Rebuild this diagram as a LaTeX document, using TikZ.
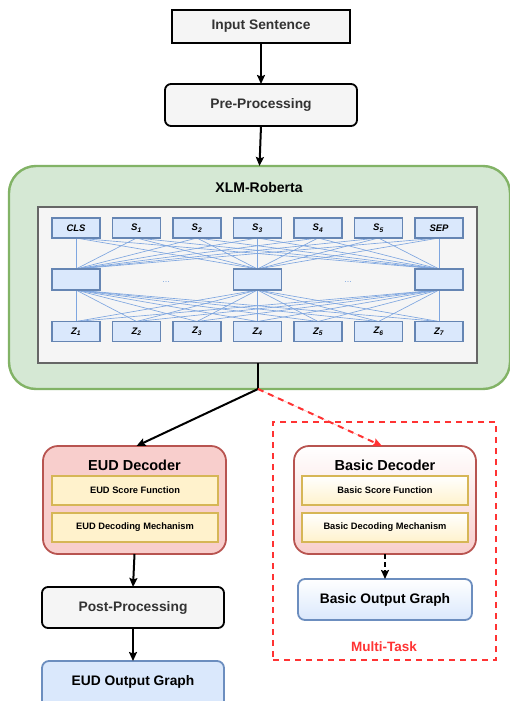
\documentclass[tikz,border=0pt]{standalone}
\usepackage{fontspec}
\setmainfont{Liberation Sans}
\usetikzlibrary{arrows.meta,calc}
\definecolor{grayfill}{HTML}{F5F5F5}
\definecolor{greenfill}{HTML}{D5E8D4}
\definecolor{greenline}{HTML}{82B366}
\definecolor{innerline}{HTML}{666666}
\definecolor{bluefill}{HTML}{DAE8FC}
\definecolor{blueline}{HTML}{6C8EBF}
\definecolor{netline}{HTML}{7EA6E0}
\definecolor{redfill}{HTML}{F8CECC}
\definecolor{redline}{HTML}{B85450}
\definecolor{yellowfill}{HTML}{FFF2CC}
\definecolor{yellowline}{HTML}{D6B656}
\definecolor{mtred}{HTML}{FF3333}
\definecolor{textgray}{HTML}{333333}
\tikzset{
  x=1pt,y=-1pt,
  every node/.style={outer sep=0pt,inner sep=0pt},
  tip/.style={-{Stealth[length=9pt,width=8pt,inset=1.5pt]}},
  arr/.style={tip,line width=2pt,black},
  plainbox/.style={draw=black,line width=1.8pt,fill=grayfill,font=\bfseries\fontsize{13.8}{15}\selectfont,text=textgray},
  tokbox/.style={draw=netline!80!black,line width=1.2pt,fill=bluefill,minimum width=48pt,minimum height=20pt,font=\bfseries\itshape\fontsize{9.5}{10}\selectfont},
  decbox/.style={draw=redline,line width=1.8pt,rounded corners=15pt,minimum width=182pt,minimum height=108pt},
  funbox/.style={draw=yellowline,line width=1.8pt,minimum width=166pt,minimum height=29pt,font=\bfseries\fontsize{9.3}{10}\selectfont},
  outbox/.style={draw=blueline,line width=1.8pt,rounded corners=7pt,font=\bfseries\fontsize{13.8}{15}\selectfont},
  net/.style={draw=netline,line width=0.65pt},
}
\begin{document}
\begin{tikzpicture}
\useasboundingbox (0,0) rectangle (510,701);
% top flow
\node[plainbox,minimum width=178pt,minimum height=33pt] (input) at (261,26.5) {Input Sentence};
\node[plainbox,rounded corners=6pt,minimum width=192pt,minimum height=42pt] (pre) at (261,105) {Pre-Processing};
% XLM-Roberta
\node[draw=greenline,fill=greenfill,line width=2.4pt,rounded corners=27pt,minimum width=501pt,minimum height=223pt] (xlm) at (259.5,277.5) {};
\node[font=\bfseries\fontsize{14}{15}\selectfont] (xlmt) at (259,187) {XLM-Roberta};
\node[draw=innerline,fill=grayfill,line width=2.4pt,minimum width=439pt,minimum height=156pt] (inner) at (257.5,285) {};
% tokens
\foreach \i/\x in {1/76,2/136.5,3/197,4/257.5,5/318,6/378.5,7/439}{
  \coordinate (tpos\i) at (\x,228);
  \coordinate (zpos\i) at (\x,331.5);
}
\foreach \m/\x in {1/76,2/257.5,3/439}{
  \coordinate (mpos\m) at (\x,279.5);
}
% network lines (drawn first)
\foreach \i in {1,...,7}{
  \foreach \m in {1,2,3}{
    \draw[net] ($(tpos\i)+(0,10)$) -- ($(mpos\m)+(0,-10.5)$);
    \draw[net] ($(mpos\m)+(0,10.5)$) -- ($(zpos\i)+(0,-10)$);
  }
}
\node[tokbox] (t1) at (tpos1) {CLS};
\node[tokbox] (t2) at (tpos2) {S\textsubscript{1}};
\node[tokbox] (t3) at (tpos3) {S\textsubscript{2}};
\node[tokbox] (t4) at (tpos4) {S\textsubscript{3}};
\node[tokbox] (t5) at (tpos5) {S\textsubscript{4}};
\node[tokbox] (t6) at (tpos6) {S\textsubscript{5}};
\node[tokbox] (t7) at (tpos7) {SEP};
\node[tokbox,minimum height=21pt] (m1) at (mpos1) {};
\node[tokbox,minimum height=21pt] (m2) at (mpos2) {};
\node[tokbox,minimum height=21pt] (m3) at (mpos3) {};
\node[text=netline,font=\fontsize{9}{9}\selectfont] (dots1) at (166,282) {...};
\node[text=netline,font=\fontsize{9}{9}\selectfont] (dots2) at (348,282) {...};
\node[tokbox] (z1) at (zpos1) {Z\textsubscript{1}};
\node[tokbox] (z2) at (zpos2) {Z\textsubscript{2}};
\node[tokbox] (z3) at (zpos3) {Z\textsubscript{3}};
\node[tokbox] (z4) at (zpos4) {Z\textsubscript{4}};
\node[tokbox] (z5) at (zpos5) {Z\textsubscript{5}};
\node[tokbox] (z6) at (zpos6) {Z\textsubscript{6}};
\node[tokbox] (z7) at (zpos7) {Z\textsubscript{7}};
% multi-task region
\node[draw=mtred,line width=1.8pt,dash pattern=on 6pt off 5pt,minimum width=223pt,minimum height=238pt] (mt) at (384.5,541) {};
\node[text=mtred,font=\bfseries\fontsize{13.5}{15}\selectfont] (mtl) at (384,647) {Multi-Task};
% EUD decoder
\node[decbox,fill=redfill,minimum width=183pt] (eud) at (134.5,500) {};
\node[font=\bfseries\fontsize{14.5}{16}\selectfont] (eudt) at (134.5,465) {EUD Decoder};
\node[funbox,fill=yellowfill] (eudf) at (135,490.5) {EUD Score Function};
\node[funbox,fill=yellowfill] (eudm) at (135,527.5) {EUD Decoding Mechanism};
% Basic decoder
\node[decbox,top color=white,bottom color=redfill] (bas) at (385,500) {};
\node[font=\bfseries\fontsize{14.5}{16}\selectfont] (bast) at (385,465) {Basic Decoder};
\node[funbox,top color=white,bottom color=yellowfill] (basf) at (385,490.5) {Basic Score Function};
\node[funbox,top color=white,bottom color=yellowfill] (basm) at (385,527.5) {Basic Decoding Mechanism};
% outputs
\node[plainbox,rounded corners=6pt,minimum width=182pt,minimum height=41pt] (post) at (133,607.5) {Post-Processing};
\node[outbox,top color=white,bottom color=bluefill,minimum width=174pt,minimum height=41pt] (baso) at (385,599.5) {Basic Output Graph};
\node[outbox,fill=bluefill,minimum width=182pt,minimum height=52pt,anchor=north] (eudo) at (133,661) {};
\node[font=\bfseries\fontsize{13.8}{15}\selectfont] (eudol) at (133,682) {EUD Output Graph};
% connectors
\coordinate (split) at (258,389);
\draw[arr] (input.south) -- (pre.north);
\draw[arr] (pre.south) -- (xlm.north);
\draw[line width=2pt] (inner.south -| split) -- (split);
\draw[arr] (split) -- ($(eud.north)+(2,0)$);
\draw[tip,line width=2pt,draw=mtred,fill=mtred,dash pattern=on 6pt off 5pt] (split) -- ($(bas.north)+(-3,0)$);
\draw[arr] (eud.south) -- (post.north);
\draw[arr] (post.south) -- (eudo.north);
\draw[arr,dash pattern=on 5pt off 3pt] (bas.south) -- (baso.north);
\end{tikzpicture}
\end{document}
